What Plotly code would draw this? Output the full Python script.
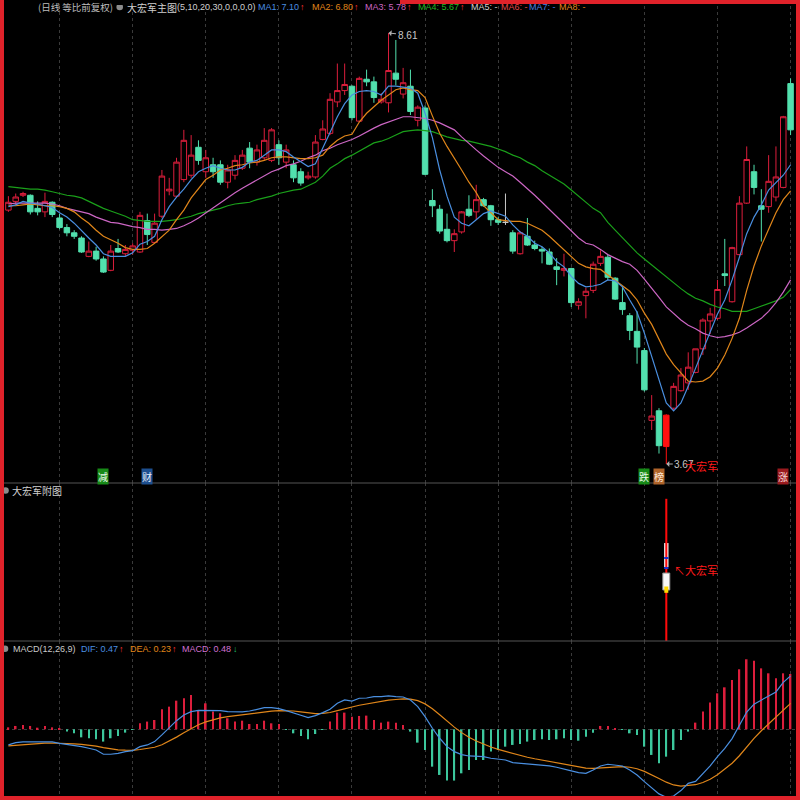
import plotly.graph_objects as go
from plotly.subplots import make_subplots

# ---------------- data ----------------
open_ = [6.58,6.68,6.75,6.75,6.60,6.56,6.67,6.49,6.38,6.32,
         6.26,6.05,6.11,6.02,5.89,6.14,6.08,6.12,6.10,6.46,
         6.21,6.51,6.80,6.74,6.93,6.98,7.30,7.02,7.10,7.10,
         6.90,6.98,7.06,7.29,7.13,7.18,7.15,7.33,7.13,7.10,
         7.02,6.95,6.96,7.39,7.46,7.82,7.95,8.00,7.60,8.08,
         8.05,7.82,7.81,8.15,7.91,8.00,7.61,7.75,6.69,6.59,
         6.36,6.23,6.33,6.59,6.56,6.70,6.63,6.47,6.44,6.32,
         6.08,6.28,6.18,6.13,6.10,5.93,5.89,5.91,5.49,5.60,
         5.66,5.97,6.04,5.80,5.52,5.37,5.19,4.97,4.17,4.28,
         3.87,4.31,4.51,4.60,4.72,4.99,5.31,5.34,5.85,5.53,
         6.07,6.66,7.02,6.63,6.62,6.73,6.84,8.03]
high = [6.74,6.77,6.79,6.76,6.68,6.78,6.68,6.54,6.42,6.35,
        6.28,6.22,6.16,6.05,6.18,6.25,6.18,6.20,6.56,6.54,
        6.54,7.04,6.95,7.18,7.50,7.44,7.38,7.27,7.18,7.15,
        7.10,7.21,7.27,7.36,7.33,7.52,7.52,7.38,7.33,7.15,
        7.06,7.02,7.44,7.61,7.92,8.26,8.26,8.01,8.11,8.19,
        8.11,7.92,8.61,8.53,8.21,8.19,7.78,7.78,6.82,6.64,
        6.54,6.36,6.57,6.75,6.87,6.72,6.64,6.50,6.77,6.35,
        6.34,6.49,6.23,6.16,6.14,6.03,6.08,5.92,5.57,5.69,
        5.99,6.12,6.07,5.81,5.70,5.40,5.42,5.00,4.46,4.31,
        4.24,4.60,4.77,4.95,4.99,5.34,5.46,5.78,6.25,6.16,
        6.74,7.31,7.10,6.82,7.21,7.31,7.66,8.09]
low = [6.56,6.64,6.73,6.53,6.52,6.50,6.50,6.36,6.28,6.25,
       6.09,6.04,6.00,5.86,5.88,6.09,6.05,6.07,6.09,6.18,
       6.20,6.49,6.75,6.72,6.90,6.95,7.10,6.95,6.95,6.87,
       6.83,6.93,7.04,7.06,7.09,7.15,7.13,7.10,7.06,6.90,
       6.86,6.93,6.94,7.38,7.44,7.76,7.90,7.61,7.59,8.00,
       7.81,7.80,7.70,8.01,7.86,7.67,7.54,6.98,6.50,6.31,
       6.21,6.10,6.31,6.50,6.47,6.62,6.40,6.41,6.41,6.08,
       6.07,6.17,6.12,5.97,5.95,5.72,5.82,5.47,5.44,5.34,
       5.63,5.94,5.78,5.55,5.38,5.09,4.82,4.50,4.06,3.79,
       3.67,4.29,4.50,4.52,4.71,4.92,5.16,5.32,5.71,5.52,
       6.06,6.65,6.76,6.22,6.55,6.68,6.83,7.44]
close = [6.67,6.73,6.77,6.56,6.56,6.68,6.53,6.38,6.32,6.28,
         6.10,6.11,6.02,5.87,6.11,6.10,6.13,6.17,6.52,6.30,
         6.43,6.97,6.82,7.13,7.38,7.21,7.15,7.18,7.02,6.90,
         7.04,7.15,7.21,7.13,7.27,7.38,7.50,7.18,7.27,6.95,
         6.89,6.97,7.36,7.51,7.85,7.95,8.02,7.64,8.09,8.05,
         7.87,7.85,8.18,8.08,8.04,7.71,7.76,6.99,6.63,6.34,
         6.23,6.31,6.56,6.52,6.70,6.63,6.47,6.44,6.44,6.11,
         6.32,6.18,6.14,6.11,5.96,5.90,5.91,5.52,5.53,5.65,
         5.96,6.05,5.81,5.56,5.44,5.20,5.01,4.52,4.22,3.88,
         4.23,4.56,4.69,4.78,4.99,5.32,5.39,5.67,5.83,6.15,
         6.66,7.16,6.84,6.59,6.91,6.96,7.65,7.50]

ma1 = [6.62,6.64,6.68,6.66,6.65,6.63,6.61,6.55,6.50,6.43,
       6.34,6.26,6.18,6.08,6.05,6.05,6.05,6.09,6.19,6.22,
       6.28,6.47,6.62,6.73,6.82,6.93,7.02,7.06,7.09,7.06,
       7.04,7.04,7.07,7.13,7.15,7.21,7.27,7.27,7.25,7.19,
       7.13,7.08,7.11,7.29,7.46,7.65,7.80,7.90,7.94,7.95,
       7.94,7.90,8.00,8.00,7.99,7.98,7.92,7.69,7.41,7.04,
       6.74,6.50,6.43,6.40,6.47,6.54,6.57,6.54,6.51,6.41,
       6.33,6.28,6.20,6.16,6.09,5.99,5.93,5.82,5.74,5.70,
       5.71,5.73,5.78,5.77,5.70,5.55,5.41,5.17,4.90,4.63,
       4.37,4.28,4.37,4.56,4.77,4.98,5.18,5.39,5.55,5.78,
       6.04,6.31,6.50,6.64,6.81,6.89,6.98,7.10]
ma2 = [6.63,6.63,6.64,6.65,6.64,6.63,6.63,6.62,6.60,6.56,
       6.49,6.43,6.35,6.28,6.24,6.20,6.15,6.13,6.13,6.14,
       6.20,6.28,6.35,6.47,6.58,6.72,6.83,6.93,6.98,7.04,
       7.06,7.09,7.10,7.12,7.13,7.15,7.18,7.19,7.19,7.18,
       7.17,7.17,7.18,7.21,7.31,7.38,7.43,7.45,7.59,7.69,
       7.77,7.84,7.90,7.96,7.98,7.96,7.95,7.87,7.66,7.46,
       7.31,7.18,7.04,6.90,6.78,6.63,6.55,6.47,6.46,6.45,
       6.45,6.43,6.39,6.35,6.28,6.20,6.12,6.05,5.97,5.93,
       5.91,5.90,5.84,5.78,5.72,5.65,5.55,5.40,5.27,5.09,
       4.93,4.81,4.71,4.62,4.61,4.62,4.67,4.77,4.92,5.11,
       5.34,5.66,5.94,6.17,6.36,6.55,6.70,6.80]
ma3 = [6.65,6.66,6.66,6.66,6.66,6.66,6.65,6.63,6.60,6.58,
       6.56,6.54,6.50,6.47,6.44,6.43,6.41,6.39,6.38,6.36,
       6.36,6.35,6.36,6.37,6.40,6.44,6.49,6.55,6.60,6.66,
       6.72,6.78,6.83,6.88,6.93,6.97,7.02,7.05,7.09,7.11,
       7.14,7.18,7.21,7.26,7.29,7.33,7.36,7.39,7.43,7.48,
       7.52,7.56,7.59,7.62,7.65,7.65,7.64,7.63,7.61,7.58,
       7.54,7.50,7.42,7.34,7.27,7.20,7.13,7.07,7.02,6.97,
       6.90,6.83,6.75,6.67,6.59,6.51,6.42,6.34,6.26,6.20,
       6.18,6.13,6.07,6.03,5.99,5.96,5.89,5.79,5.69,5.58,
       5.47,5.39,5.32,5.26,5.22,5.17,5.14,5.12,5.13,5.15,
       5.18,5.23,5.28,5.34,5.42,5.52,5.64,5.78]
ma4 = [6.85,6.84,6.83,6.82,6.82,6.81,6.79,6.77,6.75,6.74,
       6.72,6.68,6.64,6.60,6.57,6.54,6.51,6.47,6.46,6.45,
       6.45,6.45,6.46,6.47,6.49,6.51,6.54,6.56,6.58,6.60,
       6.63,6.65,6.66,6.67,6.70,6.72,6.74,6.77,6.79,6.81,
       6.82,6.86,6.90,6.97,7.06,7.11,7.17,7.21,7.26,7.30,
       7.35,7.37,7.40,7.44,7.48,7.49,7.50,7.49,7.48,7.45,
       7.42,7.40,7.38,7.37,7.35,7.33,7.31,7.28,7.25,7.21,
       7.18,7.13,7.09,7.03,6.98,6.93,6.88,6.81,6.74,6.67,
       6.60,6.55,6.44,6.35,6.26,6.17,6.09,6.02,5.95,5.88,
       5.81,5.74,5.68,5.62,5.57,5.54,5.50,5.47,5.45,5.42,
       5.42,5.42,5.45,5.48,5.51,5.54,5.58,5.67]

dif = [-0.136,-0.116,-0.110,-0.110,-0.110,-0.107,-0.110,-0.122,-0.130,-0.142,
       -0.151,-0.165,-0.180,-0.217,-0.217,-0.209,-0.194,-0.186,-0.151,-0.136,
       -0.107,-0.049,0.017,0.075,0.125,0.154,0.165,0.165,0.165,0.162,
       0.154,0.151,0.151,0.159,0.174,0.188,0.188,0.180,0.162,0.145,
       0.122,0.101,0.119,0.145,0.174,0.226,0.255,0.246,0.270,0.272,
       0.284,0.284,0.290,0.284,0.281,0.255,0.197,0.110,0.009,-0.078,
       -0.151,-0.194,-0.220,-0.232,-0.232,-0.238,-0.252,-0.258,-0.267,-0.290,
       -0.296,-0.301,-0.304,-0.310,-0.319,-0.330,-0.348,-0.362,-0.377,-0.383,
       -0.354,-0.319,-0.304,-0.310,-0.319,-0.354,-0.397,-0.455,-0.507,-0.562,
       -0.591,-0.580,-0.533,-0.470,-0.453,-0.386,-0.318,-0.238,-0.166,-0.081,
       0.031,0.150,0.219,0.252,0.292,0.325,0.408,0.465]
dea = [-0.145,-0.139,-0.133,-0.129,-0.125,-0.121,-0.119,-0.120,-0.122,-0.126,
       -0.131,-0.138,-0.146,-0.160,-0.172,-0.179,-0.182,-0.183,-0.176,-0.168,
       -0.156,-0.134,-0.104,-0.068,-0.030,0.007,0.039,0.064,0.084,0.100,
       0.110,0.119,0.125,0.132,0.140,0.150,0.158,0.162,0.162,0.159,
       0.151,0.141,0.137,0.139,0.146,0.162,0.180,0.194,0.209,0.221,
       0.234,0.244,0.253,0.259,0.264,0.262,0.249,0.221,0.179,0.127,
       0.072,0.019,-0.029,-0.070,-0.102,-0.129,-0.154,-0.175,-0.193,-0.212,
       -0.229,-0.243,-0.256,-0.267,-0.277,-0.288,-0.300,-0.312,-0.325,-0.337,
       -0.340,-0.336,-0.330,-0.326,-0.324,-0.330,-0.343,-0.366,-0.394,-0.428,
       -0.460,-0.484,-0.494,-0.489,-0.482,-0.463,-0.434,-0.395,-0.349,-0.295,
       -0.230,-0.154,-0.079,-0.013,0.048,0.103,0.164,0.225]
macd = [0.017,0.029,0.038,0.029,0.014,0.029,0.017,0.003,-0.020,-0.035,
        -0.070,-0.078,-0.087,-0.107,-0.078,-0.058,-0.029,-0.003,0.052,0.067,
        0.081,0.174,0.197,0.249,0.270,0.299,0.168,0.226,0.154,0.139,
        0.096,0.067,0.075,0.046,0.046,0.075,0.052,0.046,-0.006,-0.035,
        -0.058,-0.087,-0.041,-0.006,0.067,0.145,0.145,0.110,0.116,0.119,
        0.081,0.058,0.067,0.058,0.038,-0.020,-0.116,-0.180,-0.325,-0.397,
        -0.446,-0.446,-0.383,-0.354,-0.267,-0.267,-0.194,-0.180,-0.151,-0.136,
        -0.128,-0.107,-0.093,-0.087,-0.093,-0.087,-0.078,-0.093,-0.099,-0.064,
        -0.029,0.029,0.029,0.012,-0.006,-0.035,-0.049,-0.151,-0.223,-0.296,
        -0.238,-0.180,-0.093,-0.020,0.058,0.154,0.232,0.313,0.365,0.429,
        0.522,0.609,0.597,0.530,0.487,0.443,0.487,0.481]

highlight_bars = [90]        # filled red candle (大宏军 signal)
flat_bars = [68]             # open == close
signal_bars = [90]
signal_height = [0.90]
rocket_nose = [(0.468, 0.620)]
rocket_body = [(0.323, 0.430)]
rocket_flame = [(0.305, 0.345)]
rocket_marks = [0.456, 0.519]

bottom_marks = [(13, "减", "#178a17", "#e8f8e8"), (19, "财", "#1d4f8f", "#e8eef8"),
                (87, "跌", "#178a17", "#e8f8e8"), (89, "榜", "#b0642a", "#fbe9d8"),
                (106, "涨", "#9a1a1e", "#f8d8d8")]

# ---------------- style ----------------
CJK = "Noto Sans CJK SC"
LAT = "Liberation Sans, Noto Sans CJK SC"
RED = "#dc1e3c"
TEAL = "#52e0ae"
C_MA1, C_MA2, C_MA3, C_MA4 = "#4a8fe0", "#e0861a", "#cc66c4", "#1aa01a"
GRID = "#3a3a3a"

N = len(close)
idx = list(range(N))
special = set(highlight_bars) | set(flat_bars)
norm = [i for i in idx if i not in special]

fig = make_subplots(rows=3, cols=1, shared_xaxes=True, vertical_spacing=0)

fig.add_trace(go.Candlestick(
    x=norm, open=[open_[i] for i in norm], high=[high[i] for i in norm],
    low=[low[i] for i in norm], close=[close[i] for i in norm],
    increasing=dict(line=dict(color=RED, width=1), fillcolor="#000000"),
    decreasing=dict(line=dict(color=TEAL, width=1), fillcolor=TEAL),
    whiskerwidth=0, showlegend=False, hoverinfo="skip"), row=1, col=1)
fig.add_trace(go.Candlestick(
    x=highlight_bars, open=[open_[i] for i in highlight_bars], high=[high[i] for i in highlight_bars],
    low=[low[i] for i in highlight_bars], close=[close[i] for i in highlight_bars],
    increasing=dict(line=dict(color="#ff1010", width=1), fillcolor="#ff1010"),
    decreasing=dict(line=dict(color="#ff1010", width=1), fillcolor="#ff1010"),
    whiskerwidth=0, showlegend=False, hoverinfo="skip"), row=1, col=1)
fig.add_trace(go.Candlestick(
    x=flat_bars, open=[open_[i] for i in flat_bars], high=[high[i] for i in flat_bars],
    low=[low[i] for i in flat_bars], close=[close[i] for i in flat_bars],
    increasing=dict(line=dict(color="#c8c8c8", width=1), fillcolor="#c8c8c8"),
    decreasing=dict(line=dict(color="#c8c8c8", width=1), fillcolor="#c8c8c8"),
    whiskerwidth=0, showlegend=False, hoverinfo="skip"), row=1, col=1)

for ys, col in [(ma4, C_MA4), (ma3, C_MA3), (ma2, C_MA2), (ma1, C_MA1)]:
    fig.add_trace(go.Scatter(x=idx, y=ys, mode="lines", line=dict(color=col, width=1.2),
                             showlegend=False, hoverinfo="skip"), row=1, col=1)

# sub chart: signal line + rocket
fig.add_trace(go.Bar(x=signal_bars, y=[rocket_nose[0][1] - rocket_nose[0][0]], base=[rocket_nose[0][0]],
                     width=0.6, marker=dict(color="#f4f4f4", line_width=0), showlegend=False, hoverinfo="skip"), row=2, col=1)
fig.add_trace(go.Bar(x=signal_bars, y=signal_height, width=0.28,
                     marker=dict(color="#ff0a0a", line_width=0), showlegend=False, hoverinfo="skip"), row=2, col=1)
fig.add_trace(go.Bar(x=signal_bars, y=[rocket_body[0][1] - rocket_body[0][0]], base=[rocket_body[0][0]],
                     width=0.95, marker=dict(color="#f8f8f8", line=dict(color="#9a9a9a", width=1)),
                     showlegend=False, hoverinfo="skip"), row=2, col=1)
fig.add_trace(go.Bar(x=signal_bars, y=[rocket_flame[0][1] - rocket_flame[0][0]], base=[rocket_flame[0][0]],
                     width=0.55, marker=dict(color="#ffd800", line_width=0), showlegend=False, hoverinfo="skip"), row=2, col=1)
for m in rocket_marks:
    fig.add_trace(go.Bar(x=signal_bars, y=[0.012], base=[m], width=0.6,
                         marker=dict(color="#2030d0", line_width=0), showlegend=False, hoverinfo="skip"), row=2, col=1)

# MACD
fig.add_trace(go.Bar(x=idx, y=macd, width=0.22,
                     marker=dict(color=[RED if v >= 0 else "#3cc79c" for v in macd], line_width=0),
                     showlegend=False, hoverinfo="skip"), row=3, col=1)
fig.add_trace(go.Scatter(x=idx, y=dea, mode="lines", line=dict(color="#e0861a", width=1.2),
                         showlegend=False, hoverinfo="skip"), row=3, col=1)
fig.add_trace(go.Scatter(x=idx, y=dif, mode="lines", line=dict(color="#4a8fe0", width=1.2),
                         showlegend=False, hoverinfo="skip"), row=3, col=1)

# ---------------- layout ----------------
xr = [-1.149, 108.29]
grid_ticks = list(range(7, N, 10))
xcommon = dict(range=xr, tickvals=grid_ticks, showgrid=True, gridcolor=GRID, griddash="dot",
               gridwidth=1, showticklabels=False, ticks="", zeroline=False, showline=False,
               rangeslider=dict(visible=False), fixedrange=True)
fig.update_layout(
    width=800, height=800, margin=dict(l=0, r=0, t=0, b=0),
    paper_bgcolor="#000000", plot_bgcolor="#000000", barmode="overlay",
    boxgap=0, boxgroupgap=0.25, showlegend=False,
    xaxis=xcommon, xaxis2=xcommon, xaxis3=xcommon,
    yaxis=dict(domain=[0.39625, 1.0], range=[3.4524, 8.9882], showgrid=False, zeroline=False,
               showticklabels=False, ticks="", fixedrange=True),
    yaxis2=dict(domain=[0.19875, 0.39625], range=[0, 1], showgrid=False, zeroline=False,
                showticklabels=False, ticks="", fixedrange=True),
    yaxis3=dict(domain=[0.0, 0.19875], range=[-0.615, 0.768], tickvals=[0], showgrid=True,
                gridcolor="#3a3a3a", griddash="dot", zeroline=False, showticklabels=False, ticks="",
                fixedrange=True),
    font=dict(family=CJK),
)


def px_text(text, px, py, color, size=9, family=LAT):
    return dict(text=text, x=px / 800, y=1 - py / 800, xref="paper", yref="paper",
                xanchor="left", yanchor="middle", showarrow=False, borderpad=0,
                font=dict(color=color, size=size, family=family))


HY = 7
ann = [
    px_text("(日线 等比前复权)", 37, HY, "#bdbdbd", 9.5, CJK),
    px_text("大宏军主图", 126, HY, "#cfcfcf", 10, CJK),
    px_text("(5,10,20,30,0,0,0,0)", 176, HY, "#cfcfcf"),
    px_text("MA1: 7.10", 257, HY, C_MA1), px_text("↑", 299, HY, "#ff3030"),
    px_text("MA2: 6.80", 311, HY, C_MA2), px_text("↑", 353, HY, "#ff3030"),
    px_text("MA3: 5.78", 364, HY, C_MA3), px_text("↑", 406, HY, "#ff3030"),
    px_text("MA4: 5.67", 417, HY, "#22b822"), px_text("↑", 459, HY, "#ff3030"),
    px_text("MA5: -", 470, HY, "#d0d0d0"),
    px_text("MA6: -", 500, HY, "#e04848"),
    px_text("MA7: -", 528, HY, "#4a80e0"),
    px_text("MA8: -", 558, HY, "#e0861a"),
    px_text("大宏军附图", 11, 490.5, "#d0d0d0", 10, CJK),
    px_text("MACD(12,26,9)", 12, 648.7, "#c8c8c8"),
    px_text("DIF: 0.47", 80, 648.7, "#4a8fe0"), px_text("↑", 118, 648.7, "#ff3030"),
    px_text("DEA: 0.23", 129, 648.7, "#e0861a"), px_text("↑", 171, 648.7, "#ff3030"),
    px_text("MACD: 0.48", 181, 648.7, "#d070d0"), px_text("↓", 232, 648.7, "#20c070"),
]
# high / low markers
hi_i = high.index(max(high))
lo_i = low.index(min(low))
ann.append(dict(x=hi_i, y=high[hi_i], xref="x", yref="y", text=f"{high[hi_i]:.2f}", showarrow=True,
                ax=19, ay=2, arrowhead=1, arrowsize=1, arrowwidth=1, arrowcolor="#b0b0b0", standoff=0,
                font=dict(color="#c8c8c8", size=10, family=LAT)))
ann.append(dict(x=lo_i, y=low[lo_i], xref="x", yref="y", text=f"{low[lo_i]:.2f}", showarrow=True,
                ax=18, ay=0, arrowhead=1, arrowsize=1, arrowwidth=1, arrowcolor="#b0b0b0", standoff=0,
                font=dict(color="#c8c8c8", size=10, family=LAT)))
ann.append(dict(x=lo_i, y=low[lo_i], xref="x", yref="y", text="大宏军", showarrow=False,
                xanchor="left", yanchor="middle", xshift=17, yshift=-2,
                font=dict(color="#ff1a1a", size=11, family=CJK)))
ann.append(dict(x=signal_bars[0], y=0.449, xref="x2", yref="y2", text="↖大宏军", showarrow=False,
                xanchor="left", yanchor="middle", xshift=6,
                font=dict(color="#ff1a1a", size=11, family=CJK)))
for i, ch, bg, fg in bottom_marks:
    ann.append(dict(x=i, y=1 - 477 / 800, xref="x", yref="paper", text=ch, showarrow=False,
                    xanchor="center", yanchor="middle", bgcolor=bg, borderpad=0,
                    font=dict(color=fg, size=10, family=CJK)))
fig.update_layout(annotations=ann)

shapes = [
    dict(type="line", xref="paper", yref="paper", x0=0, x1=1, y0=1 - 483 / 800, y1=1 - 483 / 800,
         line=dict(color="#555555", width=1)),
    dict(type="line", xref="paper", yref="paper", x0=0, x1=1, y0=1 - 641 / 800, y1=1 - 641 / 800,
         line=dict(color="#555555", width=1)),
]
for cx, cy in [(119.7, HY), (5.5, 490.5), (5.0, 648.7)]:
    shapes.append(dict(type="circle", xref="paper", yref="paper",
                       x0=(cx - 3.3) / 800, x1=(cx + 3.3) / 800, y0=1 - (cy + 3.3) / 800, y1=1 - (cy - 3.3) / 800,
                       fillcolor="#8c8c8c", line=dict(width=0)))
shapes.append(dict(type="rect", xref="paper", yref="paper", x0=0, x1=1, y0=0, y1=1,
                   line=dict(color="#e0222a", width=8), fillcolor="rgba(0,0,0,0)"))
# header strip covers the top frame on the left half
shapes.append(dict(type="rect", xref="paper", yref="paper", x0=4 / 800, x1=400 / 800, y0=1 - 5 / 800, y1=1,
                   line=dict(width=0), fillcolor="#000000"))
fig.update_layout(shapes=shapes)

fig.write_html("out.html", config={"displayModeBar": False},
               post_script="document.body.style.margin='0';document.body.style.overflow='hidden';")
